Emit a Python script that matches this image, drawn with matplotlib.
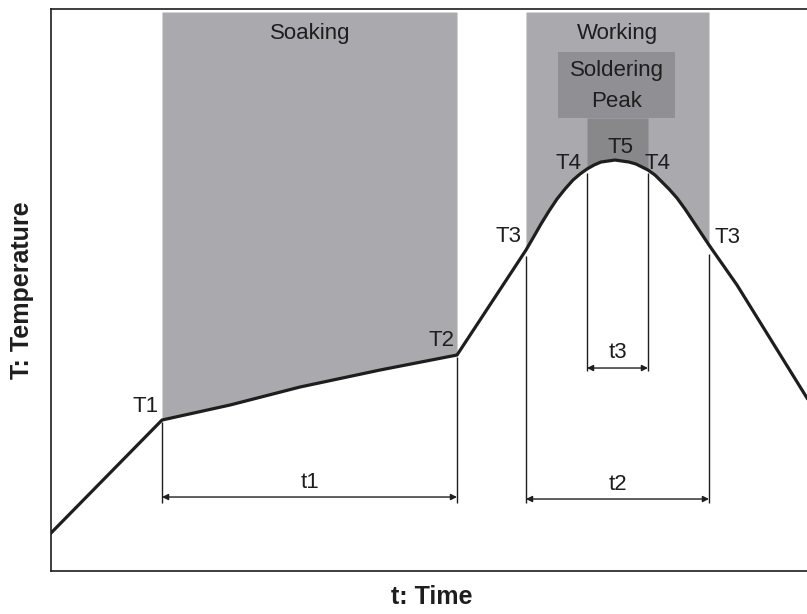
import matplotlib.pyplot as plt
from matplotlib.patches import Rectangle

# === Reflow profile (arbitrary time / temperature units) ===
profile_t = [0, 111, 179, 249, 329, 406,
             475, 482, 490, 498, 506, 514, 522, 529, 536, 543, 550, 557, 564,
             571, 578, 585, 591, 597, 604, 611, 618, 626, 634, 642, 650, 658,
             686, 756]
profile_T = [38, 151, 166, 184, 201, 216,
             321, 333, 347, 360, 372, 382, 391, 397, 402, 406, 409, 410, 411,
             410, 409, 407, 404, 401, 396, 389, 382, 373, 362, 350, 338, 326,
             286, 173]

# zone limits on the time axis
soak_start, soak_end = 111, 406
work_start, work_end = 475, 658
peak_start, peak_end = 536, 597
solder_box = (507, 624, 453, 519)   # t0, t1, T0, T1

# point labels (text, t, T)
point_labels = [
    ("T1", 95, 165), ("T2", 390, 231),
    ("T3", 457, 335), ("T3", 676, 334),
    ("T4", 517, 408), ("T4", 606, 408),
    ("T5", 569, 424),
]
zone_labels = [("Soaking", 259, 538), ("Working", 566, 538),
               ("Soldering", 566, 501), ("Peak", 566, 470)]

# dimension lines: label, start, end, arrow level, label level, extension tops
dims = [
    ("t1", soak_start, soak_end, 74, 89, (149, 214)),
    ("t2", work_start, work_end, 72, 87, (315, 317)),
    ("t3", peak_start, peak_end, 203, 219, (398, 398)),
]
ext_bottom = {"t1": 68, "t2": 68, "t3": 200}

plt.rcParams['font.family'] = ['Liberation Sans', 'DejaVu Sans']
fig = plt.figure(figsize=(8.07, 6.14), dpi=100)
ax = fig.add_axes([0.0632, 0.070, 0.9368, 0.9153])
ax.set_xlim(0, 756)
ax.set_ylim(0, 562)
top = 559

ink = "#1e1e1e"
zone_grey = "#a9a9ae"
box_grey = "#909094"
peak_grey = "#88888b"


def in_range(lo, hi):
    idx = [i for i, t in enumerate(profile_t) if lo <= t <= hi]
    return [profile_t[i] for i in idx], [profile_T[i] for i in idx]


# shaded zones above the curve
st, sT = in_range(soak_start, soak_end)
ax.fill_between(st, sT, top, color=zone_grey, lw=0)
wt, wT = in_range(work_start, work_end)
ax.fill_between(wt, wT, top, color=zone_grey, lw=0)
ax.add_patch(Rectangle((solder_box[0], solder_box[2]), solder_box[1] - solder_box[0],
                       solder_box[3] - solder_box[2], color=box_grey, lw=0))
pt, pT = in_range(peak_start, peak_end)
ax.fill_between(pt, pT, solder_box[2], color=peak_grey, lw=0)

# the profile itself
ax.plot(profile_t, profile_T, color=ink, lw=2.3, solid_joinstyle='round', zorder=5)

# dimension lines
for name, t0, t1, y_arr, y_lab, tops in dims:
    ax.vlines([t0, t1], ext_bottom[name], list(tops), color=ink, lw=1.0)
    ax.annotate("", xy=(t1, y_arr), xytext=(t0, y_arr),
                arrowprops=dict(arrowstyle='<|-|>', color=ink, lw=1.0,
                                mutation_scale=9, shrinkA=0, shrinkB=0))
    ax.text((t0 + t1) / 2, y_lab, name, ha='center', va='center',
            fontsize=16, color=ink)

for txt, t, T in point_labels + zone_labels:
    ax.text(t, T, txt, ha='center', va='center', fontsize=16, color=ink)

for s in ['top', 'left', 'bottom']:
    ax.spines[s].set_linewidth(1.2)
    ax.spines[s].set_color(ink)
ax.spines['right'].set_visible(False)
ax.set_xticks([])
ax.set_yticks([])

fig.text(432 / 807, 1 - 597 / 614, "t: Time", ha='center', va='center',
         fontsize=18, fontweight='bold', color=ink)
fig.text(22 / 807, 1 - 290 / 614, "T: Temperature", ha='center', va='center',
         rotation=90, fontsize=18, fontweight='bold', color=ink)

fig.savefig("out.png", dpi=100)
